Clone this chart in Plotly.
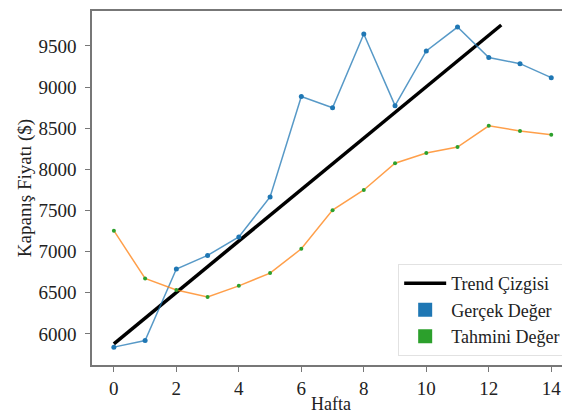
import plotly.graph_objects as go

weeks = list(range(15))
actual = [5840, 5920, 6790, 6955, 7180, 7665, 8885, 8750, 9645, 8775, 9440, 9730, 9360, 9285, 9115]
predicted = [7255, 6675, 6535, 6450, 6585, 6740, 7035, 7505, 7750, 8075, 8200, 8272, 8530, 8468, 8420]
trend_x = [0, 12.4]
trend_y = [5880, 9755]

font_family = "Liberation Serif, Times New Roman, serif"

fig = go.Figure()
fig.add_trace(go.Scatter(x=trend_x, y=trend_y, mode="lines",
                         line=dict(color="black", width=3.5), name="Trend Çizgisi", showlegend=True))
fig.add_trace(go.Scatter(x=weeks, y=actual, mode="lines+markers",
                         line=dict(color="rgba(31,119,180,0.75)", width=1.5),
                         marker=dict(color="#1f77b4", size=5), showlegend=False))
fig.add_trace(go.Scatter(x=weeks, y=predicted, mode="lines+markers",
                         line=dict(color="rgba(255,127,14,0.75)", width=1.5),
                         marker=dict(color="#2ca02c", size=4), showlegend=False))
fig.add_trace(go.Scatter(x=[None], y=[None], mode="markers",
                         marker=dict(color="#1f77b4", symbol="square", size=14),
                         name="Gerçek Değer"))
fig.add_trace(go.Scatter(x=[None], y=[None], mode="markers",
                         marker=dict(color="#2ca02c", symbol="square", size=14),
                         name="Tahmini Değer"))

# page body has an 8px margin, so the figure is shrunk by 8px on each offset side
fig.update_layout(
    width=562, height=406,
    margin=dict(l=84, r=0, t=3, b=49),
    paper_bgcolor="white", plot_bgcolor="white",
    font=dict(family=font_family, size=19, color="#222"),
    legend=dict(x=0.992, y=0.025, xanchor="right", yanchor="bottom",
                bgcolor="white", bordercolor="#e2e2e2", borderwidth=1,
                font=dict(size=18), tracegroupgap=0, itemwidth=42),
    xaxis=dict(range=[-0.7, 14.6], tickvals=list(range(0, 15, 2)), automargin=False,
               showline=True, linecolor="#777", linewidth=1.5, mirror=True,
               ticks="outside", ticklen=5, tickcolor="#777", showgrid=False, zeroline=False,
               title=dict(text="Hafta", standoff=0, font=dict(size=18))),
    yaxis=dict(range=[5623, 9925], tickvals=[6000, 6500, 7000, 7500, 8000, 8500, 9000, 9500],
               automargin=False, ticklabelstandoff=5,
               showline=True, linecolor="#777", linewidth=1.5,
               ticks="outside", ticklen=5, tickcolor="#777", showgrid=False, zeroline=False,
               title=dict(text="Kapanış Fiyatı ($)", standoff=2, font=dict(size=19))),
)

fig.write_html("out.html")
